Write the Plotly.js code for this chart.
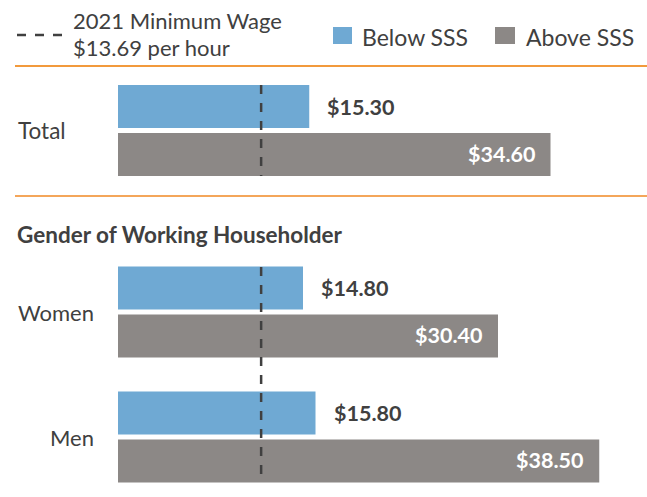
<!DOCTYPE html>
<html>
<head>
<meta charset="utf-8">
<script src="https://cdn.plot.ly/plotly-3.0.1.min.js"></script>
<style>html,body{margin:0;padding:0;background:#fff;}#chart{width:647px;height:497px;}</style>
</head>
<body>
<div id="chart"></div>
<script>
// ---- data ----
const totalCategories = ["Total"];
const genderCategories = ["Women", "Men"];
const totalBelow = [15.30];
const totalAbove = [34.60];
const genderBelow = [14.80, 15.80];
const genderAbove = [30.40, 38.50];
const seriesNames = ["Below SSS", "Above SSS"];
const sectionTitle = "Gender of Working Householder";
const minWageLabel = ["2021 Minimum Wage", "$13.69 per hour"];
const minWageLinePos = 11.45; // where the dashed line sits in the picture

// ---- style ----
const FONT = "Lato, 'Source Sans Pro', 'Open Sans', sans-serif";
const TXT = "#404040";
const BLUE = "#6FA9D3";
const GREY = "#8C8886";
const ORANGE = "#F4A65A";
const W = 647, H = 497;
const PXU = 12.5, X0 = 118;          // x scale: pixels per unit, pixel of zero
const PPC = 125;                      // pixels per category step
const fmt = v => "$" + v.toFixed(2);

const xr = [-X0 / PXU, (W - X0) / PXU];
function yRange(centerPx) { return [(H - centerPx) / PPC, -centerPx / PPC]; }

const traces = [
  {type: "bar", orientation: "h", name: seriesNames[0], y: totalCategories, x: totalBelow, yaxis: "y", marker: {color: BLUE}, hoverinfo: "none"},
  {type: "bar", orientation: "h", name: seriesNames[1], y: totalCategories, x: totalAbove, yaxis: "y", marker: {color: GREY}, hoverinfo: "none"},
  {type: "bar", orientation: "h", name: seriesNames[0], y: genderCategories, x: genderBelow, yaxis: "y2", marker: {color: BLUE}, hoverinfo: "none"},
  {type: "bar", orientation: "h", name: seriesNames[1], y: genderCategories, x: genderAbove, yaxis: "y2", marker: {color: GREY}, hoverinfo: "none"}
];

const annotations = [];
function addValueLabels(cats, below, above, yref) {
  cats.forEach((c, i) => {
    annotations.push({x: below[i], y: c, xref: "x", yref: yref, text: "<b>" + fmt(below[i]) + "</b>",
      showarrow: false, xanchor: "left", yanchor: "middle", xshift: 16, yshift: 24,
      font: {family: FONT, size: 21.5, color: TXT}});
    annotations.push({x: above[i], y: c, xref: "x", yref: yref, text: "<b>" + fmt(above[i]) + "</b>",
      showarrow: false, xanchor: "right", yanchor: "middle", xshift: -14, yshift: -23,
      font: {family: FONT, size: 21.5, color: "#ffffff"}});
  });
}
addValueLabels(totalCategories, totalBelow, totalAbove, "y");
addValueLabels(genderCategories, genderBelow, genderAbove, "y2");

// category labels
annotations.push({x: 16 / W, y: totalCategories[0], xref: "paper", yref: "y", text: totalCategories[0], showarrow: false,
  xanchor: "left", yanchor: "middle", font: {family: FONT, size: 22.5, color: TXT}});
genderCategories.forEach(c => annotations.push({x: 96 / W, y: c, xref: "paper", yref: "y2", text: c, showarrow: false,
  xanchor: "right", yanchor: "middle", font: {family: FONT, size: 22, color: TXT}}));

// section title
annotations.push({x: 15 / W, y: 1 - 234 / H, xref: "paper", yref: "paper", text: "<b>" + sectionTitle + "</b>", showarrow: false,
  xanchor: "left", yanchor: "middle", font: {family: FONT, size: 22.5, color: TXT}});

// legend
annotations.push({x: 71 / W, y: 1 - 21 / H, xref: "paper", yref: "paper", text: minWageLabel[0], showarrow: false,
  xanchor: "left", yanchor: "middle", font: {family: FONT, size: 22, color: TXT}});
annotations.push({x: 71 / W, y: 1 - 48 / H, xref: "paper", yref: "paper", text: minWageLabel[1], showarrow: false,
  xanchor: "left", yanchor: "middle", font: {family: FONT, size: 22, color: TXT}});
annotations.push({x: 360 / W, y: 1 - 37 / H, xref: "paper", yref: "paper", text: seriesNames[0], showarrow: false,
  xanchor: "left", yanchor: "middle", font: {family: FONT, size: 23, color: TXT}});
annotations.push({x: 524 / W, y: 1 - 37 / H, xref: "paper", yref: "paper", text: seriesNames[1], showarrow: false,
  xanchor: "left", yanchor: "middle", font: {family: FONT, size: 23, color: TXT}});

const shapes = [
  // orange separators
  {type: "line", xref: "paper", yref: "paper", x0: 15 / W, x1: 1, y0: 1 - 66 / H, y1: 1 - 66 / H, line: {color: "#F29A3C", width: 2}},
  {type: "line", xref: "paper", yref: "paper", x0: 15 / W, x1: 1, y0: 1 - 196 / H, y1: 1 - 196 / H, line: {color: ORANGE, width: 2}},
  // min wage dashed lines
  {type: "line", xref: "x", yref: "paper", x0: minWageLinePos, x1: minWageLinePos, y0: 1 - 85 / H, y1: 1 - 176 / H, line: {color: TXT, width: 2.5, dash: "dash"}},
  {type: "line", xref: "x", yref: "paper", x0: minWageLinePos, x1: minWageLinePos, y0: 1 - 267 / H, y1: 1 - 482 / H, line: {color: TXT, width: 2.5, dash: "dash"}},
  // legend marks
  {type: "line", xref: "paper", yref: "paper", x0: 17 / W, x1: 62 / W, y0: 1 - 35 / H, y1: 1 - 35 / H, line: {color: TXT, width: 2.5, dash: "dash"}},
  {type: "rect", xref: "paper", yref: "paper", x0: 333 / W, x1: 352 / W, y0: 1 - 27 / H, y1: 1 - 44 / H, fillcolor: BLUE, line: {width: 0}},
  {type: "rect", xref: "paper", yref: "paper", x0: 495 / W, x1: 515 / W, y0: 1 - 27 / H, y1: 1 - 44 / H, fillcolor: GREY, line: {width: 0}}
];

const layout = {
  width: W, height: H,
  margin: {l: 0, r: 0, t: 0, b: 0, pad: 0},
  paper_bgcolor: "#fff", plot_bgcolor: "#fff",
  showlegend: false,
  barmode: "group", bargap: 0.232, bargroupgap: 0.104,
  xaxis: {range: xr, visible: false, fixedrange: true},
  yaxis: {type: "category", categoryarray: totalCategories, range: yRange(130.5), visible: false, fixedrange: true, domain: [0, 1]},
  yaxis2: {type: "category", categoryarray: genderCategories, range: yRange(312), visible: false, fixedrange: true, overlaying: "y", domain: [0, 1]},
  shapes: shapes,
  annotations: annotations,
  font: {family: FONT, color: TXT}
};

Plotly.newPlot("chart", traces, layout, {staticPlot: true, displayModeBar: false});
</script>
</body>
</html>
